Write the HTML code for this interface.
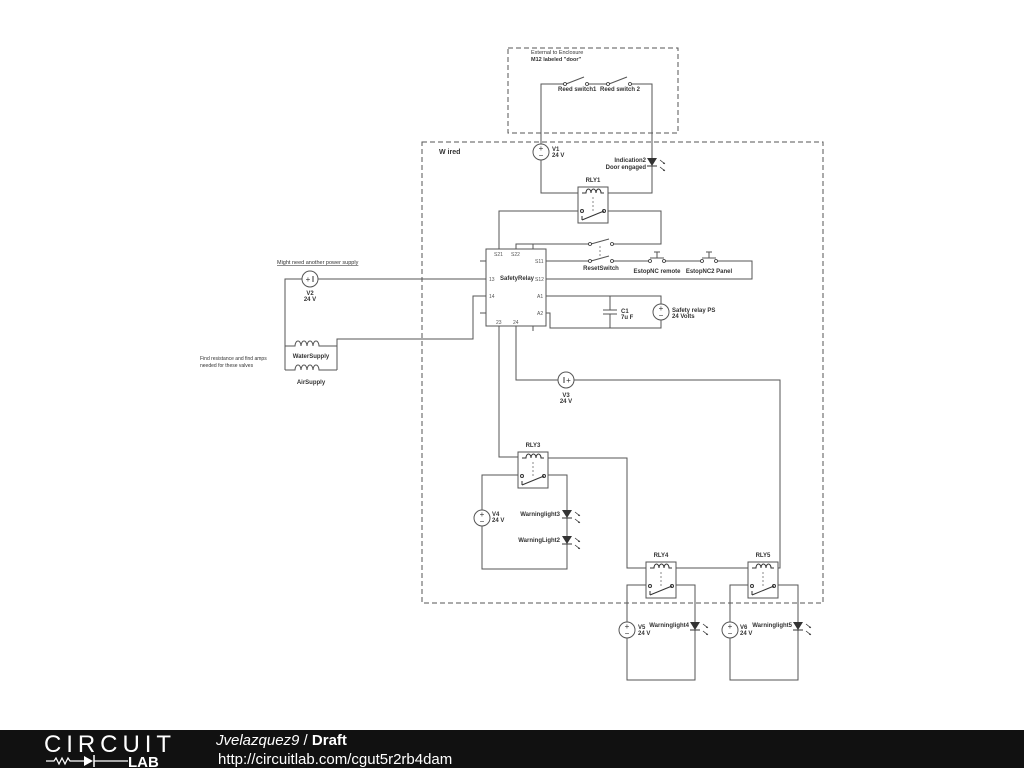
<!DOCTYPE html>
<html><head><meta charset="utf-8"><style>
html,body{margin:0;padding:0;background:#fff;width:1024px;height:768px;overflow:hidden}
svg{display:block}
text{font-family:"Liberation Sans",sans-serif;fill:#333}
.b{font-weight:bold;font-size:6px}
.s{font-size:5px;fill:#555}
</style></head><body>
<svg width="1024" height="768" viewBox="0 0 1024 768">
<defs>
<g id="led"><polygon points="-5,-4 5,-4 0,4" fill="#333"/><line x1="-5" y1="4" x2="5" y2="4" stroke="#333" stroke-width="1"/>
<path d="M8,-2 l5,4 M8,5 l5,4" stroke="#333" stroke-width="0.8"/><path d="M13,2 l-2,0 l1,-2 Z M13,9 l-2,0 l1,-2Z" fill="#333"/></g>
<g id="vs"><circle r="8" fill="#fff" stroke="#555" stroke-width="1"/><text x="0" y="-1" font-size="8" text-anchor="middle">+</text><text x="0" y="6" font-size="8" text-anchor="middle">−</text></g>
<g id="rly"><rect x="0" y="0" width="30" height="36" fill="#fff" stroke="#555"/>
<path d="M4,6 h4 a2.5,4 0 0 1 5,0 a2.5,4 0 0 1 5,0 a2.5,4 0 0 1 5,0 h3" fill="none" stroke="#333"/>
<line x1="15" y1="10" x2="15" y2="24" stroke="#888" stroke-dasharray="2,2"/>
<circle cx="4" cy="24" r="1.5" fill="#fff" stroke="#333"/><circle cx="26" cy="24" r="1.5" fill="#fff" stroke="#333"/>
<line x1="4" y1="33" x2="26" y2="24" stroke="#333"/><line x1="4" y1="29" x2="4" y2="33" stroke="#333"/></g>
</defs>
<g fill="none" stroke="#555" stroke-width="1">
<rect x="508" y="48" width="170" height="85" stroke-dasharray="5,3"/>
<rect x="422" y="142" width="401" height="461" stroke-dasharray="5,3"/>
<polyline points="541,144 541,84 565,84"/><polyline points="587,84 608,84"/><polyline points="630,84 652,84 652,193 608,193"/>
<polyline points="541,160 541,193 578,193"/>
<line x1="566" y1="84" x2="584" y2="77"/><line x1="609" y1="84" x2="627" y2="77"/>
<polyline points="582,211 499,211 499,250"/>
<polyline points="604,211 661,211 661,244 612,244"/>
<polyline points="590,244 516,244 516,250"/>
<line x1="591" y1="244" x2="609" y2="239"/>
<line x1="600" y1="246" x2="600" y2="258" stroke-dasharray="2,2" stroke="#888"/>
<polyline points="546,261 590,261"/><line x1="591" y1="261" x2="609" y2="256"/>
<polyline points="612,261 650,261"/><polyline points="664,261 702,261"/><polyline points="716,261 752,261 752,279 546,279"/>
<line x1="650" y1="258" x2="664" y2="258"/><line x1="657" y1="252" x2="657" y2="258"/><line x1="654" y1="252" x2="660" y2="252"/>
<line x1="702" y1="258" x2="716" y2="258"/><line x1="709" y1="252" x2="709" y2="258"/><line x1="706" y1="252" x2="712" y2="252"/>
<rect x="486" y="249" width="60" height="77" fill="#fff"/>
<line x1="480" y1="261" x2="486" y2="261"/><line x1="480" y1="313" x2="486" y2="313"/><line x1="533" y1="244" x2="533" y2="249"/><line x1="533" y1="326" x2="533" y2="331"/>
<polyline points="486,279 318,279"/><polyline points="302,279 285,279 285,370"/>
<polyline points="486,296 473,296 473,339 337,339 337,370"/>
<path d="M285,346 h10 a3,5 0 0 1 6,0 a3,5 0 0 1 6,0 a3,5 0 0 1 6,0 a3,5 0 0 1 6,0 h18"/>
<path d="M285,370 h10 a3,5 0 0 1 6,0 a3,5 0 0 1 6,0 a3,5 0 0 1 6,0 a3,5 0 0 1 6,0 h18"/>
<polyline points="546,296 661,296 661,304"/><polyline points="661,320 661,328 550,328 550,313 546,313"/>
<polyline points="610,296 610,310"/><polyline points="610,314 610,328"/>
<line x1="603" y1="310" x2="617" y2="310"/><line x1="603" y1="314" x2="617" y2="314"/>
<polyline points="499,326 499,457 518,457"/>
<polyline points="516,326 516,380 558,380"/><polyline points="574,380 780,380 780,568 778,568"/>
<polyline points="548,458 627,458 627,568 646,568"/><polyline points="676,568 748,568"/>
<polyline points="522,475 482,475 482,510"/><polyline points="482,526 482,569 567,569 567,475 544,475"/>
<polyline points="650,585 627,585 627,622"/><polyline points="627,638 627,680 695,680 695,585 672,585"/>
<polyline points="752,585 730,585 730,622"/><polyline points="730,638 730,680 798,680 798,585 774,585"/>
</g>
<g fill="#fff" stroke="#333" stroke-width="0.8">
<circle cx="565" cy="84" r="1.5"/><circle cx="587" cy="84" r="1.5"/><circle cx="608" cy="84" r="1.5"/><circle cx="630" cy="84" r="1.5"/>
<circle cx="590" cy="244" r="1.5"/><circle cx="612" cy="244" r="1.5"/><circle cx="590" cy="261" r="1.5"/><circle cx="612" cy="261" r="1.5"/>
<circle cx="650" cy="261" r="1.5"/><circle cx="664" cy="261" r="1.5"/><circle cx="702" cy="261" r="1.5"/><circle cx="716" cy="261" r="1.5"/>
</g>
<use href="#rly" x="578" y="187"/><use href="#rly" x="518" y="452"/><use href="#rly" x="646" y="562"/><use href="#rly" x="748" y="562"/>
<use href="#vs" x="541" y="152"/><use href="#vs" x="661" y="312"/><use href="#vs" x="482" y="518"/><use href="#vs" x="627" y="630"/><use href="#vs" x="730" y="630"/>
<g transform="translate(310,279)"><circle r="8" fill="#fff" stroke="#555"/><text x="-2" y="3" font-size="8" text-anchor="middle">+</text><line x1="3" y1="-3" x2="3" y2="3" stroke="#333"/></g>
<g transform="translate(566,380)"><circle r="8" fill="#fff" stroke="#555"/><line x1="-2" y1="-3" x2="-2" y2="3" stroke="#333"/><text x="2.5" y="3" font-size="8" text-anchor="middle">+</text></g>
<use href="#led" x="652" y="162"/><use href="#led" x="567" y="514"/><use href="#led" x="567" y="540"/><use href="#led" x="695" y="626"/><use href="#led" x="798" y="626"/>
<text class="b" x="531" y="54" style="font-weight:normal;font-size:5.5px">External to Enclosure</text>
<text class="b" x="531" y="61" style="font-size:5.5px">M12 labeled "door"</text>
<text class="b" x="558" y="91">Reed switch1</text><text class="b" x="600" y="91">Reed switch 2</text>
<text class="b" x="439" y="154" style="font-size:7px">W ired</text>
<text class="b" x="552" y="151">V1</text><text class="b" x="552" y="157">24 V</text>
<text class="b" x="646" y="162" text-anchor="end">Indication2</text><text class="b" x="646" y="169" text-anchor="end">Door engaged</text>
<text class="b" x="593" y="182" text-anchor="middle">RLY1</text>
<text class="s" x="494" y="256">S21</text><text class="s" x="511" y="256">S22</text><text class="s" x="535" y="263">S11</text>
<text class="s" x="489" y="281">13</text><text class="b" x="500" y="280">SafetyRelay</text><text class="s" x="535" y="281">S12</text>
<text class="s" x="489" y="298">14</text><text class="s" x="537" y="298">A1</text><text class="s" x="537" y="315">A2</text>
<text class="s" x="496" y="324">23</text><text class="s" x="513" y="324">24</text>
<text class="b" x="601" y="270" text-anchor="middle">ResetSwitch</text>
<text class="b" x="657" y="273" text-anchor="middle">EstopNC remote</text><text class="b" x="709" y="273" text-anchor="middle">EstopNC2 Panel</text>
<text class="b" x="621" y="313">C1</text><text class="b" x="621" y="319">7u F</text>
<text class="b" x="672" y="312">Safety relay PS</text><text class="b" x="672" y="318">24 Volts</text>
<text class="b" x="277" y="264" style="text-decoration:underline;font-weight:normal;font-size:5.5px">Might need another power supply</text>
<text class="b" x="310" y="295" text-anchor="middle">V2</text><text class="b" x="310" y="301" text-anchor="middle">24 V</text>
<text class="b" x="311" y="358" text-anchor="middle">WaterSupply</text><text class="b" x="311" y="384" text-anchor="middle">AirSupply</text>
<text class="s" x="200" y="360" style="fill:#333">Find resistance and find amps</text><text class="s" x="200" y="367" style="fill:#333">needed for these valves</text>
<text class="b" x="566" y="397" text-anchor="middle">V3</text><text class="b" x="566" y="403" text-anchor="middle">24 V</text>
<text class="b" x="533" y="447" text-anchor="middle">RLY3</text>
<text class="b" x="492" y="516">V4</text><text class="b" x="492" y="522">24 V</text>
<text class="b" x="560" y="516" text-anchor="end">Warninglight3</text><text class="b" x="560" y="542" text-anchor="end">WarningLight2</text>
<text class="b" x="661" y="557" text-anchor="middle">RLY4</text><text class="b" x="763" y="557" text-anchor="middle">RLY5</text>
<text class="b" x="638" y="629">V5</text><text class="b" x="638" y="635">24 V</text>
<text class="b" x="740" y="629">V6</text><text class="b" x="740" y="635">24 V</text>
<text class="b" x="689" y="627" text-anchor="end">Warninglight4</text><text class="b" x="792" y="627" text-anchor="end">Warninglight5</text>
<rect x="0" y="730" width="1024" height="38" fill="#111"/>
<text x="44" y="752" font-size="24" style="fill:#fff;letter-spacing:1px" textLength="128">CIRCUIT</text>
<path d="M46,761 h8 l2,-3 l3,6 l3,-6 l3,6 l3,-6 l2,3 h14" stroke="#fff" fill="none" stroke-width="1.2"/>
<polygon points="84,756 84,766 93,761" fill="#fff"/><line x1="94" y1="755" x2="94" y2="767" stroke="#fff" stroke-width="1.5"/>
<line x1="94" y1="761" x2="128" y2="761" stroke="#fff" stroke-width="1.2"/>
<text x="128" y="767" font-size="15" font-weight="bold" style="fill:#fff">LAB</text>
<text x="216" y="745" font-size="15" style="fill:#fff"><tspan font-style="italic">Jvelazquez9</tspan> / <tspan font-weight="bold">Draft</tspan></text>
<text x="218" y="764" font-size="15" style="fill:#fff">http://circuitlab.com/cgut5r2rb4dam</text>
</svg>
</body></html>
